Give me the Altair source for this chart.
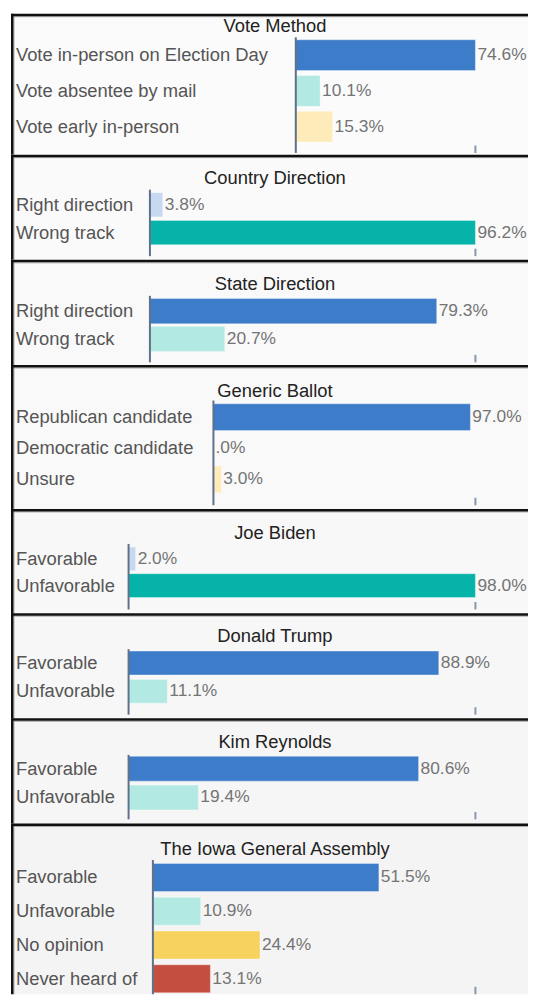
import altair as alt
import pandas as pd

# ---------------- data ----------------
titles = ["Vote Method", "Country Direction", "State Direction", "Generic Ballot",
          "Joe Biden", "Donald Trump", "Kim Reynolds", "The Iowa General Assembly"]

vote_method_cats = ["Vote in-person on Election Day", "Vote absentee by mail", "Vote early in-person"]
vote_method_vals = [74.6, 10.1, 15.3]

country_dir_cats = ["Right direction", "Wrong track"]
country_dir_vals = [3.8, 96.2]

state_dir_cats = ["Right direction", "Wrong track"]
state_dir_vals = [79.3, 20.7]

generic_cats = ["Republican candidate", "Democratic candidate", "Unsure"]
generic_vals = [97.0, 0.0, 3.0]

biden_cats = ["Favorable", "Unfavorable"]
biden_vals = [2.0, 98.0]

trump_cats = ["Favorable", "Unfavorable"]
trump_vals = [88.9, 11.1]

reynolds_cats = ["Favorable", "Unfavorable"]
reynolds_vals = [80.6, 19.4]

iowa_cats = ["Favorable", "Unfavorable", "No opinion", "Never heard of"]
iowa_vals = [51.5, 10.9, 24.4, 13.1]

panel_cats = [vote_method_cats, country_dir_cats, state_dir_cats, generic_cats,
              biden_cats, trump_cats, reynolds_cats, iowa_cats]
panel_vals = [vote_method_vals, country_dir_vals, state_dir_vals, generic_vals,
              biden_vals, trump_vals, reynolds_vals, iowa_vals]

# ---------------- style / layout ----------------
BLUE = "#3d7cc9"
AQUA = "#b3e9e3"
LYEL = "#fdebb9"
LBLUE = "#c6d9f1"
TEAL = "#05b3a8"
YEL = "#f8d25f"
RED = "#c44e40"

FONT = "Liberation Sans"
FS = 18.5
FS_VAL = 17.5
PAD_LEFT = 1
LEFT = 8 + PAD_LEFT   # page x of panel origin
TICK_X = 477          # page x of the right-hand tick
W = 521               # panel width
TICK_LEN = 7.5
BW = 2.5              # border stroke width
DY = BW / 2           # borders are drawn just inside each panel

# y values are measured from each panel's top separator line
layout = [
    dict(h=142, ty=11, a0=22.5, a1=139, b0=25, step=36, bh=31, ax=296, xmax=74.6, fill="#fbfbfb", colors=[BLUE, AQUA, LYEL]),
    dict(h=106, ty=22, a0=34, a1=101, b0=37, step=28, bh=24.5, ax=149, xmax=96.2, fill="#fafafa", colors=[LBLUE, TEAL]),
    dict(h=106, ty=23, a0=35, a1=102, b0=37.7, step=28, bh=25.5, ax=149, xmax=90.0, fill="#f9f9f9", colors=[BLUE, AQUA]),
    dict(h=145, ty=24.5, a0=34.5, a1=140, b0=37.8, step=31.3, bh=27, ax=213, xmax=98.9, fill="#f9f9f9", colors=[BLUE, AQUA, LYEL]),
    dict(h=105, ty=23, a0=34, a1=100, b0=37, step=27, bh=24, ax=127.5, xmax=98.0, fill="#f8f8f8", colors=[LBLUE, TEAL]),
    dict(h=106, ty=22, a0=35, a1=101, b0=37, step=28.5, bh=24, ax=127.5, xmax=99.4, fill="#f7f7f7", colors=[BLUE, AQUA]),
    dict(h=106, ty=23, a0=35.5, a1=100.5, b0=37, step=29, bh=25, ax=127.5, xmax=96.4, fill="#f6f6f6", colors=[BLUE, AQUA]),
    dict(h=172, ty=24, a0=35.5, a1=170.75, b0=39, step=34, bh=28.3, ax=152, xmax=73.5, fill="#f4f4f4", colors=[BLUE, AQUA, YEL, RED]),
]


def fmt(v):
    s = f"{v:.1f}%"
    return s[1:] if s.startswith("0") else s


one_row = pd.DataFrame({"k": [0]})

panels = []
for title, cats, vals, L in zip(titles, panel_cats, panel_vals, layout):
    n = len(cats)
    df = pd.DataFrame({"cat": cats, "val": vals, "label": [fmt(v) for v in vals]})

    a0, a1, b0, ty = L["a0"] + DY, L["a1"] + DY, L["b0"] + DY, L["ty"] + DY
    R = a1 - a0
    pi = (L["step"] - L["bh"]) / L["step"]
    po = (R / L["step"] - (n - pi)) / 2
    align = (b0 - a0) / (R - L["step"] * (n - pi))

    yscale = alt.Scale(domain=cats, range=[a0, a1], paddingInner=pi,
                       paddingOuter=po, align=align)
    xscale = alt.Scale(domain=[0, L["xmax"]], range=[L["ax"] - LEFT, TICK_X - LEFT],
                       nice=False, zero=True)

    base = alt.Chart(df)

    bars = base.mark_bar(stroke="white", strokeOpacity=0.35, strokeWidth=1).encode(
        x=alt.X("val:Q", scale=xscale, axis=None),
        y=alt.Y("cat:N", scale=yscale, sort=None, axis=None),
        color=alt.Color("cat:N", scale=alt.Scale(domain=cats, range=L["colors"]), legend=None),
    )

    # axis line at zero and end tick at the scale maximum (placed through the x scale)
    zero_line = alt.Chart(pd.DataFrame({"val": [0.0]})).mark_rule(
        color="#5f7088", strokeWidth=2).encode(
        x=alt.X("val:Q", scale=xscale, axis=None),
        y=alt.value(a0), y2=alt.value(a1))
    end_tick = alt.Chart(pd.DataFrame({"val": [L["xmax"]]})).mark_rule(
        color="#8797ad", strokeWidth=2).encode(
        x=alt.X("val:Q", scale=xscale, axis=None),
        y=alt.value(a1 - TICK_LEN), y2=alt.value(a1))

    cat_text = base.mark_text(align="left", baseline="middle", font=FONT, fontSize=FS,
                              color="#555555").encode(
        x=alt.value(14 - LEFT),
        y=alt.Y("cat:N", scale=yscale, sort=None, axis=None),
        text="cat:N",
    )

    val_text = base.mark_text(align="left", baseline="middle", dx=2, font=FONT, fontSize=FS_VAL,
                              color="#747474").encode(
        x=alt.X("val:Q", scale=xscale, axis=None),
        y=alt.Y("cat:N", scale=yscale, sort=None, axis=None),
        text="label:N",
    )

    title_text = alt.Chart(pd.DataFrame({"t": [title]})).mark_text(
        align="center", baseline="middle", font=FONT, fontSize=FS, color="#222222"
    ).encode(x=alt.value(275 - LEFT), y=alt.value(ty), text="t:N")

    # panel borders: top separator and left edge (with a soft grey shadow), inside the panel
    top_shadow = alt.Chart(one_row).mark_rule(color="#a8a8a8", strokeWidth=1).encode(
        x=alt.value(0), x2=alt.value(W), y=alt.value(BW + 0.5))
    left_shadow = alt.Chart(one_row).mark_rule(color="#a8a8a8", strokeWidth=1).encode(
        x=alt.value(BW + 0.5), y=alt.value(0), y2=alt.value(L["h"]))
    top_line = alt.Chart(one_row).mark_rule(color="#111111", strokeWidth=BW).encode(
        x=alt.value(0), x2=alt.value(W), y=alt.value(DY))
    left_line = alt.Chart(one_row).mark_rule(color="#111111", strokeWidth=BW).encode(
        x=alt.value(DY), y=alt.value(0), y2=alt.value(L["h"]))

    panel = alt.layer(bars, zero_line, end_tick, cat_text, val_text, title_text,
                      top_shadow, left_shadow, top_line, left_line).properties(
        width=W, height=L["h"],
        view=alt.ViewBackground(fill=L["fill"], stroke="transparent", strokeWidth=0),
    )
    panels.append(panel)

chart = alt.vconcat(*panels, spacing=0, bounds="flush").resolve_scale(
    color="independent"
).configure(
    padding={"left": PAD_LEFT, "top": 0, "right": 0, "bottom": 0},
    background="white",
).configure_view(stroke="transparent", strokeWidth=0)

chart.save("out.html", embed_options={"renderer": "svg", "actions": False})
